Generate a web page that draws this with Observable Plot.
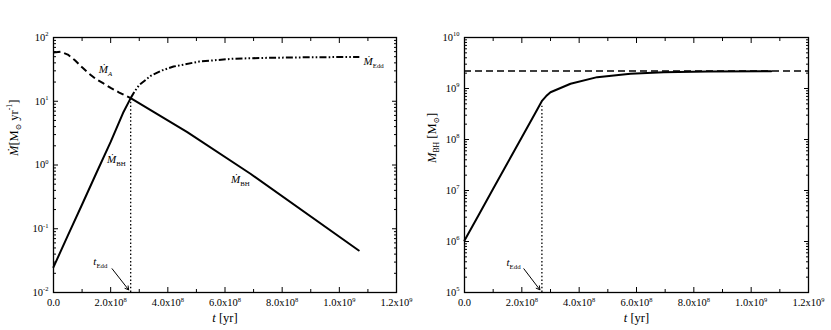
<!DOCTYPE html>
<html><head><meta charset="utf-8">
<script src="https://cdn.jsdelivr.net/npm/d3@7"></script>
<script src="https://cdn.jsdelivr.net/npm/@observablehq/plot@0.6"></script>
<style>
html,body{margin:0;padding:0;background:#fff;}
#wrap{display:flex;width:831px;height:330px;}
#wrap svg{display:block;}
</style></head><body><div id="wrap"></div>
<script>
// ---------- Left panel data (accretion rates, Msun/yr) ----------
const tBH     = [0, 5e7, 1e8, 1.5e8, 2e8, 2.45e8, 2.7e8, 4.68e8, 6.89e8, 1.068e9];
const mdotBH  = [0.025, 0.078, 0.24, 0.75, 2.3, 6.8, 11.2, 3.27, 0.73, 0.0456];
const tA      = [0, 2.5e7, 5e7, 7.5e7, 1e8, 1.25e8, 1.5e8, 1.75e8, 2e8, 2.3e8, 2.7e8];
const mdotA   = [58, 60, 54, 44, 34, 27, 22, 19, 16.2, 13.7, 11.2];
const tEddC   = [2.7e8, 2.85e8, 3.0e8, 3.4e8, 3.8e8, 4.2e8, 5.1e8, 6.3e8, 7.5e8, 9e8, 1.07e9];
const mdotEdd = [11.2, 14.5, 18, 25, 30.5, 35, 42, 46.5, 48, 49, 49.5];
const tEdd    = 2.7e8;
const peakL   = 11;

// ---------- Right panel data (black hole mass, Msun) ----------
const tM   = [0, 5e7, 1e8, 1.5e8, 2e8, 2.48e8, 2.71e8, 2.85e8, 3.0e8, 3.7e8, 4.63e8, 5.79e8, 6.95e8, 8.5e8, 1.07e9];
const mBH  = [1.05e6, 3.36e6, 1.08e7, 3.47e7, 1.11e8, 3.4e8, 5.8e8, 7.1e8, 8.45e8, 1.24e9, 1.67e9, 1.94e9, 2.09e9, 2.15e9, 2.18e9];
const mCap = 2.2e9;
const peakR = 4.5e8;

// ---------- Ticks ----------
const xMajor  = [0, 2e8, 4e8, 6e8, 8e8, 1e9, 1.2e9];
const xMinor  = [1e8, 3e8, 5e8, 7e8, 9e8, 1.1e9];
const yMajorL = [1e-2, 1e-1, 1, 10, 100];
const yMajorR = [1e5, 1e6, 1e7, 1e8, 1e9, 1e10];
const minorOf = maj => maj.slice(0, -1).flatMap(d => [2,3,4,5,6,7,8,9].map(k => k * d));

// ---------- Text ----------
const xLabel  = "*t* [yr]";
const yLabelL = "*Ṁ*[M_{⊙} yr^{-1}]";
const yLabelR = "*M*_{BH} [M_{⊙}]";
const labelsL  = ["*Ṁ*_{*A*}", "*Ṁ*_{Edd}", "*Ṁ*_{BH}", "*Ṁ*_{BH}", "*t*_{Edd}"];
const labelsLT = [1.82e8, 1.12e9, 2.2e8, 6.54e8, 1.64e8];
const labelsLV = [31.5, 42, 1.22, 0.59, 0.0306];
const labelsR  = ["*t*_{Edd}"];
const labelsRT = [1.71e8];
const labelsRV = [3.9e5];
const arrowL = {x1: 2.05e8, y1: 0.0236, x2: 2.63e8, y2: 0.011};
const arrowR = {x1: 2.07e8, y1: 2.92e5, x2: 2.63e8, y2: 1.13e5};

const fmtX = d => {
  if (d === 0) return "0.0";
  const e = Math.floor(Math.log10(d) + 1e-9);
  return (d / 10 ** e).toFixed(1) + "x10^{" + e + "}";
};
const fmtY = d => "10^{" + Math.round(Math.log10(d)) + "}";

function axes(yMajor) {
  const yMinor = minorOf(yMajor);
  const m = [
    Plot.axisX(xMajor, {anchor: "bottom", tickSize: 0, tickPadding: 6, tickFormat: fmtX, label: null, fontSize: 10.5}),
    Plot.axisY(yMajor, {anchor: "left", tickSize: 0, tickPadding: 5, tickFormat: fmtY, label: null, fontSize: 10.5})
  ];
  for (const a of ["bottom", "top"]) {
    m.push(Plot.axisX(xMajor, {anchor: a, tickSize: 5, dy: a === "bottom" ? -5 : 5, fill: "none", label: null}));
    m.push(Plot.axisX(xMinor, {anchor: a, tickSize: 3, dy: a === "bottom" ? -3 : 3, fill: "none", label: null}));
  }
  for (const a of ["left", "right"]) {
    m.push(Plot.axisY(yMajor, {anchor: a, tickSize: 5, dx: a === "left" ? 5 : -5, fill: "none", label: null}));
    m.push(Plot.axisY(yMinor, {anchor: a, tickSize: 3, dx: a === "left" ? 3 : -3, fill: "none", label: null}));
  }
  m.push(Plot.frame({strokeWidth: 1.3}));
  return m;
}

const style = {fontFamily: "'Liberation Serif', 'DejaVu Serif', serif", fontSize: "10.5px", background: "white", color: "black"};

const left = Plot.plot({
  width: 415, height: 330,
  marginLeft: 53, marginRight: 19, marginTop: 37, marginBottom: 38,
  style,
  x: {domain: [0, 1.2e9]},
  y: {type: "log", domain: [1e-2, 1e2]},
  marks: [
    ...axes(yMajorL),
    Plot.ruleX([tEdd], {y1: 1e-2, y2: peakL, strokeDasharray: "1.5,2.2", strokeWidth: 1.3}),
    Plot.line(tA, {x: tA, y: mdotA, strokeWidth: 2, strokeDasharray: "7,4", strokeLinecap: "butt"}),
    Plot.line(tEddC, {x: tEddC, y: mdotEdd, strokeWidth: 2, strokeDasharray: "7,2.2,1.6,2.2,1.6,2.2", strokeLinecap: "butt"}),
    Plot.line(tBH, {x: tBH, y: mdotBH, strokeWidth: 2}),
    Plot.text(labelsL, {x: labelsLT, y: labelsLV, text: d => d, fontSize: 11}),
    Plot.arrow([arrowL], {x1: "x1", y1: "y1", x2: "x2", y2: "y2", headLength: 6, strokeWidth: 1, bend: 0}),
    Plot.text([xLabel], {frameAnchor: "bottom", dy: 29, fontSize: 12.5}),
    Plot.text([yLabelL], {frameAnchor: "left", rotate: -90, dx: -40, dy: -9, fontSize: 12.5})
  ]
});

const right = Plot.plot({
  width: 416, height: 330,
  marginLeft: 49, marginRight: 23, marginTop: 37, marginBottom: 38,
  style,
  x: {domain: [0, 1.2e9]},
  y: {type: "log", domain: [1e5, 1e10]},
  marks: [
    ...axes(yMajorR),
    Plot.ruleY([mCap], {strokeWidth: 1.5, strokeDasharray: "7,4"}),
    Plot.ruleX([tEdd], {y1: 1e5, y2: peakR, strokeDasharray: "1.5,2.2", strokeWidth: 1.3}),
    Plot.line(tM, {x: tM, y: mBH, strokeWidth: 2}),
    Plot.text(labelsR, {x: labelsRT, y: labelsRV, text: d => d, fontSize: 11}),
    Plot.arrow([arrowR], {x1: "x1", y1: "y1", x2: "x2", y2: "y2", headLength: 6, strokeWidth: 1, bend: 0}),
    Plot.text([xLabel], {frameAnchor: "bottom", dy: 29, fontSize: 12.5}),
    Plot.text([yLabelR], {frameAnchor: "left", rotate: -90, dx: -33, dy: -2, fontSize: 12.5})
  ]
});

const wrap = document.getElementById("wrap");
wrap.appendChild(left);
wrap.appendChild(right);

// Turn simple markup (*italic*, ^{sup}, _{sub}) into real tspans
function parse(s) {
  const segs = [];
  let i = 0, italic = false, buf = "";
  const flush = () => { if (buf) segs.push({t: buf, it: italic, shift: null}); buf = ""; };
  while (i < s.length) {
    const c = s[i];
    if (c === "*") { flush(); italic = !italic; i++; }
    else if ((c === "^" || c === "_") && s[i + 1] === "{") {
      flush();
      const j = s.indexOf("}", i);
      let inner = s.slice(i + 2, j);
      let it = false;
      if (inner.startsWith("*") && inner.endsWith("*")) { it = true; inner = inner.slice(1, -1); }
      segs.push({t: inner, it, shift: c === "^" ? "sup" : "sub"});
      i = j + 1;
    } else { buf += c; i++; }
  }
  flush();
  return segs;
}
function richify(svg) {
  d3.select(svg).selectAll("text").each(function () {
    const el = this;
    if (el.querySelector("tspan")) return;
    const s = el.textContent;
    if (!/[\^_*]/.test(s)) return;
    const base = parseFloat(getComputedStyle(el).fontSize) || 11;
    const segs = parse(s);
    el.textContent = "";
    let cur = 0;
    for (const g of segs) {
      const ts = d3.select(el).append("tspan").text(g.t);
      const target = g.shift === "sup" ? -0.42 * base : g.shift === "sub" ? 0.3 * base : 0;
      if (target !== cur) ts.attr("dy", (target - cur).toFixed(2));
      cur = target;
      if (g.shift) ts.attr("font-size", (0.62 * base).toFixed(2));
      if (g.it) ts.attr("font-style", "italic");
    }
  });
}
richify(left);
richify(right);
</script>
</body></html>
